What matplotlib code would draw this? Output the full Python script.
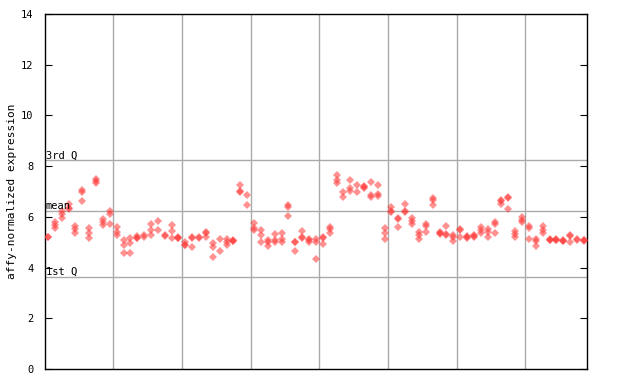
import matplotlib
matplotlib.use("Agg")
import matplotlib.pyplot as plt
import numpy as np

# replicate values per sample (samples 1..79)
samples = [
    [5.2, 5.2], [5.78, 5.68, 5.55], [6.22, 6.1, 5.97], [6.5, 6.35, 6.3],
    [5.62, 5.52, 5.36], [7.05, 6.97, 6.62], [5.55, 5.35, 5.15], [7.5, 7.42, 7.35],
    [5.9, 5.8, 5.68], [6.25, 6.12, 5.7], [5.6, 5.4, 5.3], [5.1, 4.88, 4.56],
    [5.15, 4.95, 4.56], [5.25, 5.18, 5.15], [5.28, 5.2], [5.72, 5.47, 5.27],
    [5.82, 5.48], [5.3, 5.25], [5.67, 5.43, 5.15], [5.22, 5.18, 5.15],
    [5.0, 4.9, 4.88], [5.19, 5.15, 4.83], [5.2, 5.17], [5.4, 5.35, 5.2],
    [4.98, 4.8, 4.4], [5.13, 4.64], [5.13, 5.02, 4.88], [5.1, 5.06, 5.05],
    [7.26, 7.03, 6.98], [6.85, 6.45], [5.75, 5.58, 5.5], [5.48, 5.27, 5.0],
    [5.1, 5.0, 4.86], [5.32, 5.1, 5.02], [5.35, 5.12, 5.02], [6.45, 6.37, 6.03],
    [5.02, 5.0, 4.65], [5.45, 5.22, 5.18], [5.14, 5.1, 5.0], [5.14, 5.02, 4.34],
    [5.22, 5.18, 4.92], [5.6, 5.52, 5.38], [7.65, 7.47, 7.35], [7.0, 6.77],
    [7.44, 7.12, 7.02], [7.24, 7.0], [7.22, 7.18, 7.15], [7.36, 6.85, 6.77],
    [7.24, 6.92, 6.84], [5.56, 5.35, 5.14], [6.38, 6.24, 6.2], [5.94, 5.9, 5.59],
    [6.5, 6.24, 6.2], [5.95, 5.82, 5.7], [5.42, 5.27, 5.14], [5.72, 5.65, 5.4],
    [6.73, 6.66, 6.47], [5.42, 5.35, 5.32], [5.65, 5.32, 5.3], [5.29, 5.19, 5.06],
    [5.52, 5.48, 5.19], [5.23, 5.2, 5.17], [5.27, 5.24, 5.2], [5.6, 5.48, 5.35],
    [5.52, 5.42, 5.19], [5.8, 5.7, 5.35], [6.67, 6.62, 6.5], [6.78, 6.74, 6.3],
    [5.44, 5.32, 5.19], [5.98, 5.88, 5.79], [5.65, 5.56, 5.14], [5.14, 5.03, 4.85],
    [5.65, 5.48, 5.35], [5.12, 5.1, 5.08], [5.13, 5.1, 5.08], [5.08, 5.05, 5.03],
    [5.28, 5.24, 5.02], [5.12, 5.09], [5.1, 5.07, 5.05],
]

q1 = 3.63
mean_val = 6.22
q3 = 8.23
y_ticks = [0, 2, 4, 6, 8, 10, 12, 14]

mono = "DejaVu Sans Mono"
grid_col = "#aaaaaa"

fig = plt.figure(figsize=(6.4, 3.84), dpi=100)
ax = fig.add_axes([44.5 / 640, 15 / 384, (587.3 - 44.5) / 640, 355 / 384])

n = len(samples)
xs = []
ys = []
for i, vals in enumerate(samples):
    for v in vals:
        xs.append(i + 0.5)
        ys.append(v)

# vertical group lines every 10 samples
for gx in range(10, n, 10):
    ax.axvline(gx, color=grid_col, lw=1, zorder=1)
for qv in [q1, mean_val, q3]:
    ax.axhline(qv, color=grid_col, lw=1, zorder=1)

ax.plot(xs, ys, linestyle="none", marker="D", markersize=4.2,
        markerfacecolor="#ff3838", markeredgewidth=0, alpha=0.55, zorder=3)

ax.text(0.2, q3, "3rd Q", fontsize=7.5, family=mono, va="bottom", ha="left")
ax.text(0.2, mean_val, "mean", fontsize=7.5, family=mono, va="bottom", ha="left")
ax.text(0.2, q1, "1st Q", fontsize=7.5, family=mono, va="bottom", ha="left")

ax.set_xlim(0, n)
ax.set_ylim(0, 14)
ax.set_yticks(y_ticks)
ax.set_yticklabels([str(t) for t in y_ticks], family=mono, fontsize=7.5)
ax.set_xticks([])
ax.tick_params(axis="y", direction="in", length=5, right=True, left=True, pad=8)
for sp in ax.spines.values():
    sp.set_linewidth(1)
    sp.set_color("black")
ax.set_ylabel("affy-normalized expression", family=mono, fontsize=8, labelpad=3)

fig.savefig("out.png", dpi=100)
